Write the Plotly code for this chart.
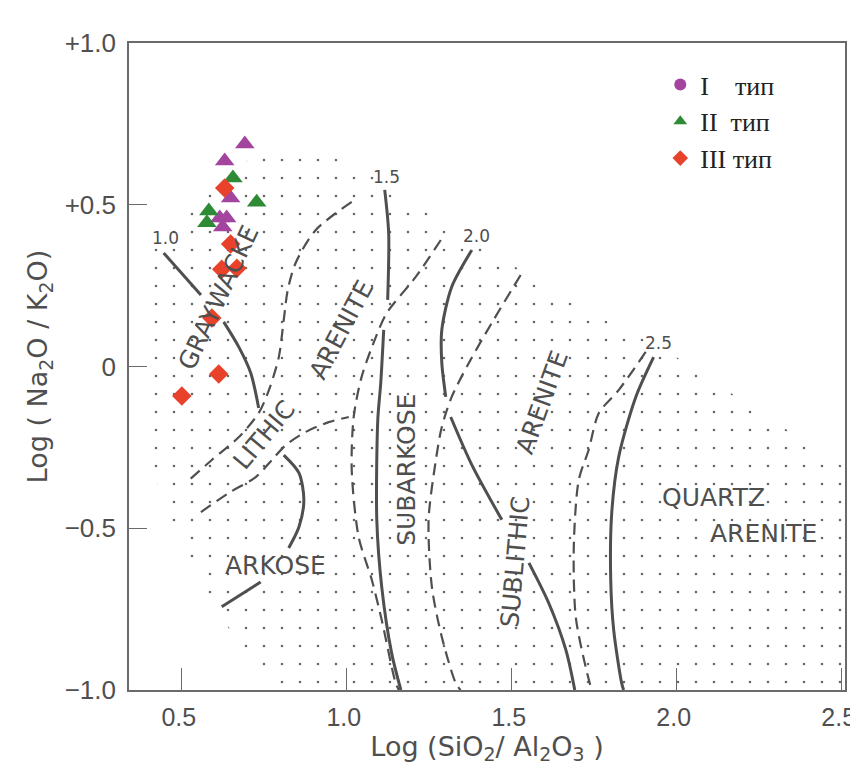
import plotly.graph_objects as go

# ---------------- data ----------------
x_ticks = [0.5, 1.0, 1.5, 2.0, 2.5]
x_ticktext = ["0.5", "1.0", "1.5", "2.0", "2.5"]
y_ticks = [1.0, 0.5, 0.0, -0.5, -1.0]
y_ticktext = ["+1.0", "+0.5", "0", "\u22120.5", "\u22121.0"]

# sample points  (x = Log(SiO2/Al2O3), y = Log(Na2O/K2O))
type1_x = [0.691, 0.630, 0.648, 0.615, 0.636, 0.624]
type1_y = [0.688, 0.635, 0.521, 0.459, 0.459, 0.431]
type2_x = [0.655, 0.727, 0.582, 0.576]
type2_y = [0.583, 0.508, 0.481, 0.444]
type3_x = [0.709, 0.630, 0.648, 0.621, 0.667, 0.591, 0.612, 0.500]
type3_y = [1.062, 0.552, 0.379, 0.301, 0.304, 0.150, -0.023, -0.091]

# classification field boundaries (Pettijohn et al.)
stipple_x = [0.400, 0.445, 0.536, 0.642, 0.748, 0.870, 0.991, 1.112, 1.248, 1.400, 1.552, 1.703,
             1.824, 1.945, 2.067, 2.218, 2.370, 2.510, 2.510, 0.794, 0.673, 0.552, 0.445, 0.400,
             0.391, 0.400]
stipple_y = [0.329, 0.437, 0.515, 0.607, 0.663, 0.685, 0.632, 0.570, 0.478, 0.376, 0.283, 0.190,
             0.119, 0.066, -0.017, -0.119, -0.221, -0.314, -1.000, -1.000, -0.861, -0.660, -0.444,
             -0.258, 0.051, 0.329]

solid_10_x = [0.445, 0.558, None, 0.627, 0.673, 0.709, 0.733]
solid_10_y = [0.351, 0.221, None, 0.138, 0.060, -0.020, -0.128]

dash_a_x = [1.015, 0.906, 0.845, 0.821, 0.809, 0.794, 0.764, 0.733, 0.673, 0.591, 0.512]
dash_a_y = [0.509, 0.422, 0.320, 0.236, 0.144, 0.029, -0.073, -0.144, -0.218, -0.289, -0.360]

dash_b_x = [0.558, 0.642, 0.724, 0.773, 0.815, 0.876, 0.945, 1.006]
dash_b_y = [-0.450, -0.391, -0.342, -0.289, -0.243, -0.202, -0.172, -0.156]

arkose_x = [0.809, 0.855, 0.870, 0.855, 0.824]
arkose_y = [-0.274, -0.329, -0.413, -0.496, -0.561]

arkose2_x = [0.621, 0.739]
arkose2_y = [-0.743, -0.666]

solid_15_x = [1.115, 1.127, 1.124, None, 1.112, 1.103, 1.094, 1.091, 1.106, 1.136, 1.164]
solid_15_y = [0.546, 0.413, 0.206, None, 0.113, -0.051, -0.165, -0.474, -0.682, -0.886, -1.000]

dash_c_x = [1.285, 1.209, 1.121, 1.088, 1.045, 1.021, 1.015, 1.036, 1.076, 1.106, 1.148, 1.158]
dash_c_y = [0.391, 0.277, 0.165, 0.091, -0.032, -0.156, -0.320, -0.527, -0.660, -0.784, -0.978, -1.000]

dash_d_x = [1.527, 1.439, 1.370, 1.318, 1.288, 1.270, 1.248, 1.258, 1.288, 1.330, 1.345]
dash_d_y = [0.283, 0.134, 0.011, -0.094, -0.187, -0.289, -0.474, -0.682, -0.836, -0.978, -1.000]

solid_20_x = [1.379, 1.318, 1.288, 1.288, 1.300, None, 1.315, 1.379, 1.470, None, 1.552, 1.612, 1.664, 1.691]
solid_20_y = [0.360, 0.246, 0.113, 0.011, -0.094, None, -0.156, -0.304, -0.474, None, -0.607, -0.731, -0.876, -1.000]

dash_e_x = [1.906, 1.824, 1.764, 1.733, 1.703, 1.688, 1.694, 1.724, 1.742]
dash_e_y = [0.045, -0.073, -0.144, -0.258, -0.351, -0.558, -0.774, -0.929, -1.000]

solid_25_x = [1.930, 1.876, 1.824, 1.803, 1.800, 1.809, 1.833, 1.839]
solid_25_y = [0.029, -0.094, -0.280, -0.453, -0.660, -0.815, -0.978, -1.000]

NB = "\u00a0"
legend_names = ["I" + NB * 4 + "тип", "II" + NB * 2 + "тип", "III" + NB + "тип"]

# ---------------- styles ----------------
INK = "#4f4f4f"
C1, C2, C3 = "#A3449F", "#2F8A36", "#E8432A"
SANS = "DejaVu Sans"

fig = go.Figure()

fig.add_trace(go.Scatter(
    x=stipple_x, y=stipple_y, mode="lines", fill="toself",
    line=dict(width=0, color="rgba(0,0,0,0)"),
    fillcolor="rgba(0,0,0,0)",
    fillpattern=dict(shape=".", size=18, solidity=0.016, fgcolor="#666666",
                     bgcolor="rgba(255,255,255,0)", fgopacity=1),
    hoverinfo="skip", showlegend=False))

solid_lines = [(solid_10_x, solid_10_y), (arkose_x, arkose_y), (arkose2_x, arkose2_y),
               (solid_15_x, solid_15_y), (solid_20_x, solid_20_y), (solid_25_x, solid_25_y)]
dash_lines = [(dash_a_x, dash_a_y), (dash_b_x, dash_b_y), (dash_c_x, dash_c_y),
              (dash_d_x, dash_d_y), (dash_e_x, dash_e_y)]

for lx, ly in solid_lines:
    fig.add_trace(go.Scatter(x=lx, y=ly, mode="lines",
                             line=dict(color=INK, width=3.0, shape="spline", smoothing=0.8),
                             hoverinfo="skip", showlegend=False))
for lx, ly in dash_lines:
    fig.add_trace(go.Scatter(x=lx, y=ly, mode="lines",
                             line=dict(color=INK, width=2.2, dash="12px,7px", shape="spline", smoothing=0.8),
                             hoverinfo="skip", showlegend=False))

# legend entries
fig.add_trace(go.Scatter(x=[None], y=[None], mode="markers", name=legend_names[0],
                         marker=dict(symbol="circle", size=14, color=C1), legendrank=1))
fig.add_trace(go.Scatter(x=type1_x, y=type1_y, mode="markers", showlegend=False,
                         marker=dict(symbol="triangle-up", size=17, color=C1), cliponaxis=False))
fig.add_trace(go.Scatter(x=type2_x, y=type2_y, mode="markers", name=legend_names[1],
                         marker=dict(symbol="triangle-up", size=17, color=C2), cliponaxis=False, legendrank=2))
fig.add_trace(go.Scatter(x=type3_x, y=type3_y, mode="markers", name=legend_names[2],
                         marker=dict(symbol="diamond", size=15, color=C3), cliponaxis=False, legendrank=3))

# region labels
labels = [
    ("GRAYWACKE", 0.612, 0.212, -65),
    ("LITHIC", 0.748, -0.212, -50),
    ("ARENITE", 0.985, 0.113, -62),
    ("ARKOSE", 0.785, -0.614, 0),
    ("SUBARKOSE", 1.179, -0.320, -90),
    ("SUBLITHIC", 1.512, -0.604, -85),
    ("ARENITE", 1.591, -0.110, -70),
    ("QUARTZ", 2.112, -0.406, 0),
    ("ARENITE", 2.264, -0.515, 0),
]
for txt, lx, ly, ang in labels:
    fig.add_annotation(x=lx, y=ly, text=txt, showarrow=False, textangle=ang,
                       font=dict(family=SANS, size=25, color=INK))

nums = [("1.0", 0.452, 0.397), ("1.5", 1.121, 0.586), ("2.0", 1.394, 0.403), ("2.5", 1.945, 0.073)]
for txt, lx, ly in nums:
    fig.add_annotation(x=lx, y=ly, text=txt, showarrow=False,
                       font=dict(family=SANS, size=17, color=INK))

axis_common = dict(showgrid=False, zeroline=False, showline=True, linecolor="#6a6a6a", linewidth=1.6,
                   mirror=True, ticks="inside", tickcolor="#6a6a6a", tickwidth=1.3,
                   automargin=False, ticklabeloverflow="allow")

# page body adds an 8px offset, so the figure is sized to fit the 858x772 window
fig.update_layout(
    width=850, height=764,
    margin=dict(l=121, r=13, t=35, b=82),
    paper_bgcolor="white", plot_bgcolor="white",
    xaxis=dict(range=[0.34, 2.51], tickvals=x_ticks, ticktext=x_ticktext, ticklen=22,
               ticklabelstandoff=4, ticklabelshift=-3,
               tickfont=dict(family="Liberation Sans", size=25, color=INK),
               title=dict(text="Log (SiO<sub>2</sub>/ Al<sub>2</sub>O<sub>3</sub> )", standoff=7,
                          font=dict(family=SANS, size=27, color=INK)),
               **axis_common),
    yaxis=dict(range=[-1.0, 1.0], tickvals=y_ticks, ticktext=y_ticktext, ticklen=18,
               ticklabelstandoff=6,
               tickfont=dict(family="Liberation Sans", size=26, color=INK),
               title=dict(text="Log ( Na<sub>2</sub>O / K<sub>2</sub>O)", standoff=9,
                          font=dict(family=SANS, size=27, color=INK)),
               **axis_common),
    legend=dict(x=0.742, y=0.972, xanchor="left", yanchor="top",
                font=dict(family="Liberation Serif", size=26, color="#222"),
                bgcolor="rgba(0,0,0,0)", tracegroupgap=0, itemsizing="constant"),
    showlegend=True,
)

fig.write_html("out.html")
